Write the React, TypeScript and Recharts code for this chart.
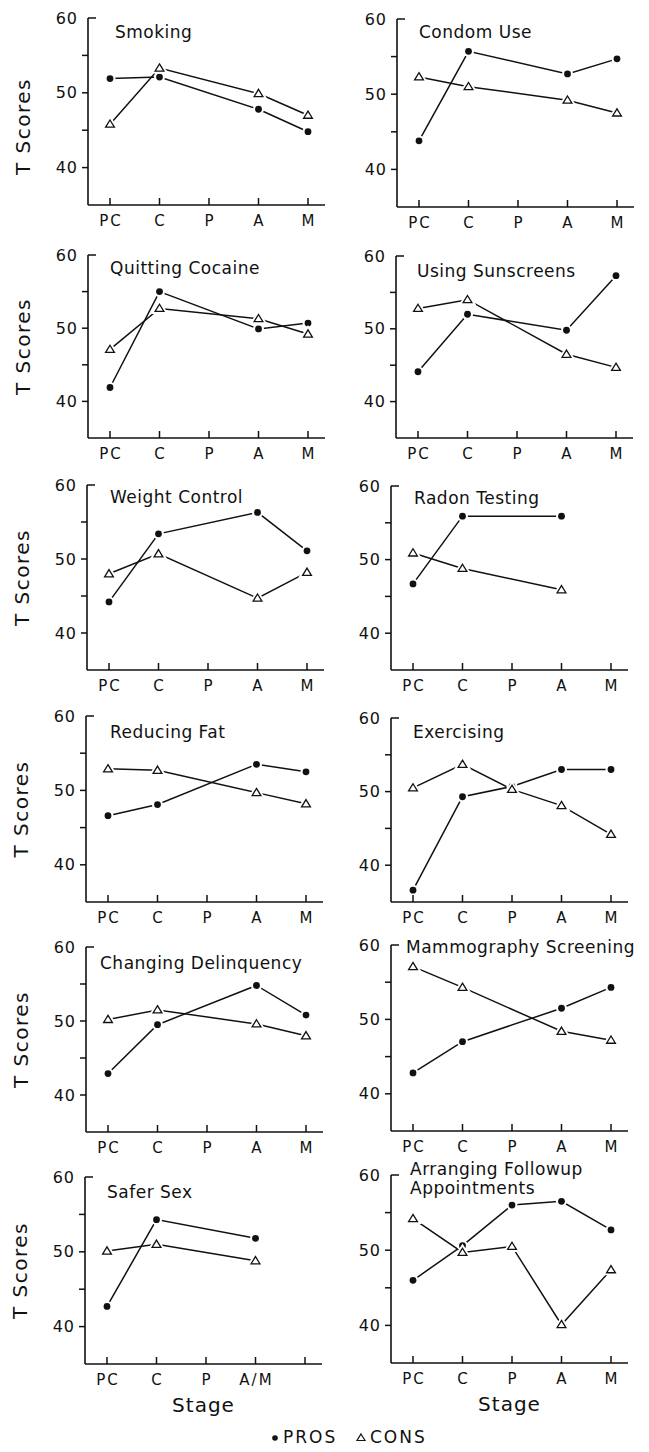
import { Line, LineChart, XAxis, YAxis } from 'recharts';

// stage categories on the x axis
const stages = ['PC', 'C', 'P', 'A', 'M'];
const saferSexStages = ['PC', 'C', 'P', 'A/M', ''];

const yTicks = [40, 45, 50, 55, 60];
const yLabels = [40, 50, 60];

// T scores (null = stage not shown)
const smokingPros = [51.9, 52.1, null, 47.8, 44.8];
const smokingCons = [45.8, 53.3, null, 49.9, 47.0];
const condomPros = [43.8, 55.7, null, 52.7, 54.7];
const condomCons = [52.3, 51.0, null, 49.2, 47.5];
const cocainePros = [41.9, 55.0, null, 49.9, 50.7];
const cocaineCons = [47.1, 52.7, null, 51.3, 49.2];
const sunscreenPros = [44.1, 52.0, null, 49.8, 57.3];
const sunscreenCons = [52.8, 54.0, null, 46.5, 44.7];
const weightPros = [44.2, 53.4, null, 56.3, 51.1];
const weightCons = [48.0, 50.7, null, 44.7, 48.2];
const radonPros = [46.7, 55.9, null, 55.9, null];
const radonCons = [50.9, 48.8, null, 45.9, null];
const fatPros = [46.6, 48.1, null, 53.5, 52.5];
const fatCons = [52.9, 52.7, null, 49.7, 48.2];
const exercisePros = [36.6, 49.3, 50.7, 53.0, 53.0];
const exerciseCons = [50.5, 53.7, 50.3, 48.1, 44.2];
const delinquencyPros = [42.9, 49.5, null, 54.8, 50.8];
const delinquencyCons = [50.2, 51.5, null, 49.6, 48.0];
const mammographyPros = [42.8, 47.0, null, 51.5, 54.3];
const mammographyCons = [57.1, 54.3, null, 48.4, 47.2];
const saferSexPros = [42.7, 54.3, null, 51.8, null];
const saferSexCons = [50.1, 51.0, null, 48.8, null];
const followupPros = [46.0, 50.6, 56.0, 56.5, 52.7];
const followupCons = [54.2, 49.7, 50.5, 40.1, 47.4];

const panels = [
  { title: ['Smoking'], stages, pros: smokingPros, cons: smokingCons },
  { title: ['Condom Use'], stages, pros: condomPros, cons: condomCons },
  { title: ['Quitting Cocaine'], stages, pros: cocainePros, cons: cocaineCons },
  { title: ['Using Sunscreens'], stages, pros: sunscreenPros, cons: sunscreenCons },
  { title: ['Weight Control'], stages, pros: weightPros, cons: weightCons },
  { title: ['Radon Testing'], stages, pros: radonPros, cons: radonCons },
  { title: ['Reducing Fat'], stages, pros: fatPros, cons: fatCons },
  { title: ['Exercising'], stages, pros: exercisePros, cons: exerciseCons },
  { title: ['Changing Delinquency'], stages, pros: delinquencyPros, cons: delinquencyCons },
  { title: ['Mammography Screening'], stages, pros: mammographyPros, cons: mammographyCons },
  { title: ['Safer Sex'], stages: saferSexStages, pros: saferSexPros, cons: saferSexCons },
  { title: ['Arranging Followup', 'Appointments'], stages, pros: followupPros, cons: followupCons },
];

// where each panel sits on the page: y-axis x, y of 60, y of the x axis, title offset
const layout = [
  { x: 88, top: 18, bottom: 205, tx: 27, ty: 14, shift: 15 },
  { x: 397, top: 19, bottom: 207, tx: 22, ty: 13 },
  { x: 88, top: 255, bottom: 438, tx: 22, ty: 13 },
  { x: 396, top: 256, bottom: 438, tx: 21, ty: 15 },
  { x: 87, top: 485, bottom: 670, tx: 23, ty: 12 },
  { x: 391, top: 486, bottom: 670, tx: 23, ty: 12 },
  { x: 86, top: 716, bottom: 902, tx: 24, ty: 16 },
  { x: 391, top: 718, bottom: 902, tx: 22, ty: 14 },
  { x: 86, top: 947, bottom: 1132, tx: 14, ty: 16 },
  { x: 391, top: 945, bottom: 1131, tx: 15, ty: 2 },
  { x: 85, top: 1177, bottom: 1364, tx: 22, ty: 15 },
  { x: 391, top: 1175, bottom: 1363, tx: 19, ty: -6 },
];

const ink = '#111';
const font = '"DejaVu Sans", Verdana, sans-serif';

const ProsDot = (props: any) => {
  const { cx, cy, index } = props;
  if (cx == null || cy == null) return <g key={`p${index}`} />;
  return (
    <g key={`p${index}`}>
      <circle cx={cx} cy={cy} r={5.5} fill="#fff" />
      <circle cx={cx} cy={cy} r={3.4} fill={ink} />
    </g>
  );
};

const ConsDot = (props: any) => {
  const { cx, cy, index } = props;
  if (cx == null || cy == null) return <g key={`c${index}`} />;
  const d = `M${cx},${cy - 4.2} L${cx + 4.4},${cy + 3} L${cx - 4.4},${cy + 3} Z`;
  return (
    <g key={`c${index}`}>
      <path d={d} fill="#fff" stroke="#fff" strokeWidth={5} />
      <path d={d} fill="#fff" stroke={ink} strokeWidth={1.3} />
    </g>
  );
};

const StageTick = (props: any) => {
  const { x, y, payload } = props;
  return (
    <g>
      <line x1={x} x2={x} y1={y} y2={y - 7} stroke={ink} strokeWidth={1.5} />
      <text x={x + 1} y={y + 20.5} textAnchor="middle" fontSize={15} fill={ink}
        style={{ fontFamily: font, letterSpacing: 2 }}>
        {payload.value}
      </text>
    </g>
  );
};

const ScoreTick = (props: any) => {
  const { x, y, payload } = props;
  const v = payload.value;
  return (
    <g>
      {v === 60
        ? <line x1={x} x2={x + 8} y1={y} y2={y} stroke={ink} strokeWidth={1.5} />
        : <line x1={x - 6} x2={x} y1={y} y2={y} stroke={ink} strokeWidth={1.5} />}
      {yLabels.includes(v) && (
        <text x={x - 10} y={y + 5.5} textAnchor="end" fontSize={16} fill={ink}
          style={{ fontFamily: font, letterSpacing: 1 }}>
          {v}
        </text>
      )}
    </g>
  );
};

const tScoresLabel = (shift: number) => (props: any) => {
  const vb = props.viewBox || { x: 0, y: 0, width: 80, height: 180 };
  const cx = vb.x + 15;
  const cy = vb.y + vb.height / 2 + shift;
  return (
    <text x={cx} y={cy} transform={`rotate(-90, ${cx}, ${cy})`} textAnchor="middle"
      dominantBaseline="central" fontSize={20} fill={ink}
      style={{ fontFamily: font, letterSpacing: 1.5 }}>
      T Scores
    </text>
  );
};

const stageLabel = (props: any) => {
  const vb = props.viewBox || { x: 80, y: 0, width: 237, height: 60 };
  return (
    <text x={vb.x + vb.width / 2} y={vb.y + 41} textAnchor="middle" dominantBaseline="central"
      fontSize={20} fill={ink} style={{ fontFamily: font, letterSpacing: 1 }}>
      Stage
    </text>
  );
};

const Panel = ({ panel, box, col, last }: any) => {
  const data = panel.stages.map((stage: string, i: number) => ({
    stage,
    pros: panel.pros[i],
    cons: panel.cons[i],
  }));
  const axisH = last ? 60 : 30;
  const height = 10 + (box.bottom - box.top) + axisH;

  return (
    <div style={{ position: 'absolute', left: box.x - 80, top: box.top - 10 }}>
      <LineChart width={322} height={height} data={data}
        margin={{ top: 10, right: 5, bottom: 0, left: 0 }}>
        <XAxis
          dataKey="stage"
          padding={{ left: 22, right: 17 }}
          interval={0}
          height={axisH}
          tickSize={0}
          tickMargin={0}
          tickLine={false}
          axisLine={{ stroke: ink, strokeWidth: 1.6 }}
          tick={StageTick}
          label={last ? stageLabel : undefined}
        />
        <YAxis
          domain={[35, 60]}
          ticks={yTicks}
          allowDataOverflow
          width={80}
          tickSize={0}
          tickMargin={0}
          tickLine={false}
          axisLine={{ stroke: ink, strokeWidth: 1.6 }}
          tick={ScoreTick}
          label={col === 0 ? tScoresLabel(box.shift || 0) : undefined}
        />
        <Line dataKey="pros" type="linear" stroke={ink} strokeWidth={1.5} connectNulls
          dot={ProsDot} activeDot={false} isAnimationActive={false} />
        <Line dataKey="cons" type="linear" stroke={ink} strokeWidth={1.5} connectNulls
          dot={ConsDot} activeDot={false} isAnimationActive={false} />
      </LineChart>
      <div style={{
        position: 'absolute',
        left: 80 + box.tx,
        top: 10 + box.ty - 9.5,
        fontFamily: font,
        fontSize: 17,
        lineHeight: '19px',
        letterSpacing: 0.5,
        color: ink,
        whiteSpace: 'nowrap',
      }}>
        {panel.title.map((t: string) => <div key={t}>{t}</div>)}
      </div>
    </div>
  );
};

export default function App() {
  return (
    <div style={{ position: 'absolute', left: 0, top: 0, width: 649, height: 1452, background: '#fff' }}>
      {panels.map((panel, i) => (
        <Panel key={panel.title[0]} panel={panel} box={layout[i]} col={i % 2} last={i >= 10} />
      ))}
      <div style={{ position: 'absolute', left: 271, top: 1427, height: 20, fontFamily: font, fontSize: 17, color: ink }}>
        <svg width={10} height={20} style={{ position: 'absolute', left: 0, top: 0 }}>
          <circle cx={4} cy={11} r={2.8} fill={ink} />
        </svg>
        <span style={{ position: 'absolute', left: 12, top: 0, lineHeight: '20px', letterSpacing: 2 }}>PROS</span>
        <svg width={12} height={20} style={{ position: 'absolute', left: 84, top: 0 }}>
          <path d="M6,7 L10,13.5 L2,13.5 Z" fill="#fff" stroke={ink} strokeWidth={1.2} />
        </svg>
        <span style={{ position: 'absolute', left: 99, top: 0, lineHeight: '20px', letterSpacing: 2 }}>CONS</span>
      </div>
    </div>
  );
}
